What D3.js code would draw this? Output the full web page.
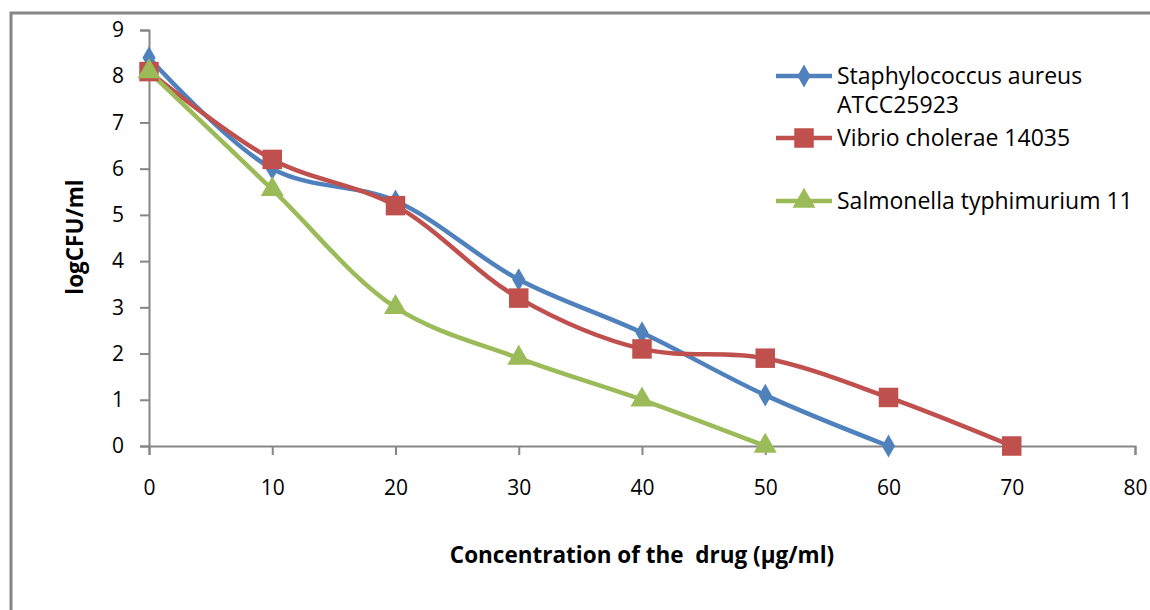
<!DOCTYPE html>
<html>
<head>
<meta charset="utf-8">
<script src="https://cdn.jsdelivr.net/npm/d3@7"></script>
<style>
  body { margin: 0; background: #fff; }
  text { font-family: "Open Sans", "Liberation Sans", sans-serif; }
</style>
</head>
<body>
<svg id="chart" width="1150" height="610"></svg>
<script>
// Data
const concentrations = [0, 10, 20, 30, 40, 50, 60, 70];
const staphValues = [8.4, 6.0, 5.3, 3.6, 2.45, 1.1, 0];
const vibrioValues = [8.1, 6.2, 5.2, 3.2, 2.1, 1.9, 1.05, 0];
const salmonellaValues = [8.1, 5.55, 3.0, 1.9, 1.0, 0];
const seriesNames = ["Staphylococcus aureus ATCC25923", "Vibrio cholerae 14035", "Salmonella typhimurium 11"];
const xTicks = [0, 10, 20, 30, 40, 50, 60, 70, 80];
const yTicks = [0, 1, 2, 3, 4, 5, 6, 7, 8, 9];

const series = [
  { name: seriesNames[0], values: staphValues, color: "#4F81BD", marker: "diamond" },
  { name: seriesNames[1], values: vibrioValues, color: "#C0504D", marker: "square" },
  { name: seriesNames[2], values: salmonellaValues, color: "#9BBB59", marker: "triangle" }
];

const svg = d3.select("#chart");

// outer chart border (right/bottom edges fall outside the picture)
svg.append("rect")
  .attr("x", 11).attr("y", 13)
  .attr("width", 1200).attr("height", 650)
  .attr("fill", "none")
  .attr("stroke", "#868686")
  .attr("stroke-width", 3);

const x = d3.scaleLinear().domain([0, 80]).range([149, 1135]);
const y = d3.scaleLinear().domain([0, 9]).range([446, 30]);

// axes
const yAxis = svg.append("g")
  .attr("transform", `translate(${x(0)},0)`)
  .call(d3.axisLeft(y).tickValues(yTicks).tickSize(9).tickPadding(16));
const xAxis = svg.append("g")
  .attr("transform", `translate(0,${y(0)})`)
  .call(d3.axisBottom(x).tickValues(xTicks).tickSize(9).tickPadding(25));

[xAxis, yAxis].forEach(a => {
  a.select(".domain").attr("stroke", "#868686").attr("stroke-width", 2);
  a.selectAll(".tick line").attr("stroke", "#868686").attr("stroke-width", 2);
  a.selectAll(".tick text")
    .attr("fill", "#000")
    .style("font-size", "21px")
    .style("font-family", "'Open Sans', sans-serif");
});

// lines
const line = d3.line()
  .x((d, i) => x(concentrations[i]))
  .y(d => y(d))
  .curve(d3.curveCatmullRom.alpha(0.5));

const symbolFor = {
  diamond: d3.symbol().type(d3.symbolDiamond).size(150),
  square: d3.symbol().type(d3.symbolSquare).size(380),
  triangle: d3.symbol().type(d3.symbolTriangle).size(230)
};

series.forEach(s => {
  svg.append("path")
    .datum(s.values)
    .attr("d", line)
    .attr("fill", "none")
    .attr("stroke", s.color)
    .attr("stroke-width", 4.5)
    .attr("stroke-linejoin", "round");
});

series.forEach(s => {
  svg.append("g").selectAll("path")
    .data(s.values)
    .enter()
    .append("path")
    .attr("transform", (d, i) => `translate(${x(concentrations[i])},${y(d)})`)
    .attr("d", symbolFor[s.marker])
    .attr("fill", s.color);
});

// axis titles
svg.append("text")
  .attr("transform", "translate(83,237) rotate(-90)")
  .attr("text-anchor", "middle")
  .style("font-size", "22.5px")
  .style("font-weight", "bold")
  .text("logCFU/ml");

svg.append("text")
  .attr("x", 642).attr("y", 563)
  .attr("text-anchor", "middle")
  .style("font-size", "22.5px")
  .style("font-weight", "bold")
  .style("white-space", "pre")
  .text("Concentration of the  drug (µg/ml)");

// legend
const legendRows = [
  { s: series[0], y: 76, lines: ["Staphylococcus aureus", "ATCC25923"] },
  { s: series[1], y: 138, lines: ["Vibrio cholerae 14035"] },
  { s: series[2], y: 201, lines: ["Salmonella typhimurium 11"] }
];

legendRows.forEach(r => {
  const g = svg.append("g");
  g.append("line")
    .attr("x1", 776).attr("x2", 832)
    .attr("y1", r.y).attr("y2", r.y)
    .attr("stroke", r.s.color)
    .attr("stroke-width", 4.5);
  g.append("path")
    .attr("transform", `translate(804,${r.y})`)
    .attr("d", symbolFor[r.s.marker])
    .attr("fill", r.s.color);
  r.lines.forEach((t, i) => {
    g.append("text")
      .attr("x", 837)
      .attr("y", r.y + 8 + i * 29)
      .style("font-size", "23px")
      .attr("fill", "#000")
      .text(t);
  });
});
</script>
</body>
</html>
